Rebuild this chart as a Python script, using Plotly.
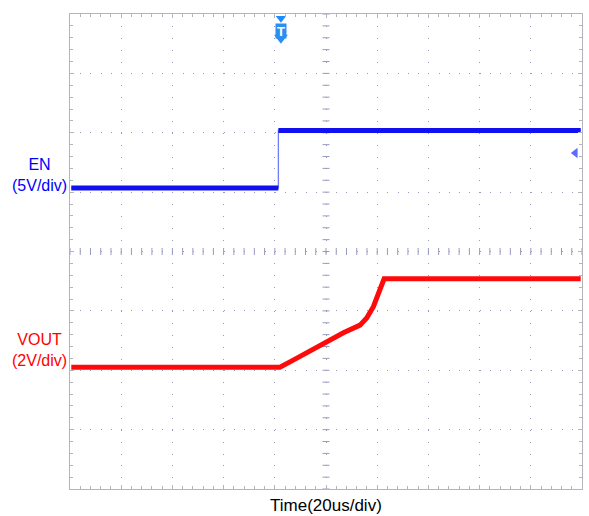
"""Scope capture: EN step and VOUT soft-start ramp, redrawn with Plotly."""

import plotly.graph_objects as go

# time in microseconds (20 us/div, 10 divisions), levels in screen divisions
EN_T = [-99.5, -18.6, -18.6, 99.5]
EN_DIV = [1.07, 1.07, 2.04, 2.04]

VOUT_T = [-99.5, -18.0, -12.8, -6.25, 0.3, 6.8, 13.3, 15.9, 18.5, 21.1, 22.7, 99.5]
VOUT_DIV = [-1.95, -1.95, -1.83, -1.67, -1.52, -1.37, -1.24, -1.12, -0.93, -0.65, -0.46, -0.46]

TRIGGER_T = -17.6
EN_REF_DIV = 1.66

X_RANGE = [-100, 100]
Y_RANGE = [-4, 4]
CENTER_TICKS_X = [v * 4 for v in range(-25, 26)]
CENTER_TICKS_Y = [v * 0.2 for v in range(-20, 21)]

_GRID = "#9a9abf"
_BORDER = "#b4b4bc"
_EN_COLOR = "#1010f0"
_VOUT_COLOR = "#ff0a0a"
_FONT = "Liberation Sans, Arial, sans-serif"

fig = go.Figure()

# center cross tick marks
fig.add_trace(go.Scatter(
    x=CENTER_TICKS_X, y=[0] * len(CENTER_TICKS_X), mode="markers",
    marker=dict(symbol="line-ns", size=5, line=dict(color=_GRID, width=1)),
    hoverinfo="skip", showlegend=False,
))
fig.add_trace(go.Scatter(
    x=[0] * len(CENTER_TICKS_Y), y=CENTER_TICKS_Y, mode="markers",
    marker=dict(symbol="line-ew", size=5, line=dict(color=_GRID, width=1)),
    hoverinfo="skip", showlegend=False,
))

# EN: thin edge, thick noisy levels
fig.add_trace(go.Scatter(
    x=EN_T, y=EN_DIV, mode="lines",
    line=dict(color="#6f7cf5", width=1.3), showlegend=False,
))
fig.add_trace(go.Scatter(
    x=[EN_T[0], EN_T[1], None, EN_T[2], EN_T[3]],
    y=[EN_DIV[0], EN_DIV[1], None, EN_DIV[2], EN_DIV[3]],
    mode="lines", line=dict(color=_EN_COLOR, width=5), showlegend=False,
))

# VOUT
fig.add_trace(go.Scatter(
    x=VOUT_T, y=VOUT_DIV, mode="lines",
    line=dict(color=_VOUT_COLOR, width=5), showlegend=False,
))

# trigger marker and EN reference arrow
fig.add_trace(go.Scatter(
    x=[TRIGGER_T], y=[3.93], mode="markers",
    marker=dict(symbol="triangle-down", size=9, color="#1a8cff"),
    cliponaxis=False, hoverinfo="skip", showlegend=False,
))
fig.add_trace(go.Scatter(
    x=[TRIGGER_T], y=[3.6], mode="markers",
    marker=dict(symbol="triangle-down", size=12, color="#2a90f0"),
    cliponaxis=False, hoverinfo="skip", showlegend=False,
))
fig.add_trace(go.Scatter(
    x=[97.4], y=[EN_REF_DIV], mode="markers",
    marker=dict(symbol="triangle-left", size=9, color="#5b6bff"),
    cliponaxis=False, hoverinfo="skip", showlegend=False,
))

fig.add_annotation(
    x=TRIGGER_T, y=3.72, text="<b>T</b>", showarrow=False,
    font=dict(family=_FONT, size=13, color="white"),
    bgcolor="#2a90f0", borderpad=0, width=10, height=14,
)

fig.add_annotation(
    xref="paper", x=0, xshift=-1, xanchor="right", y=1.29,
    text="EN<br>(5V/div)", showarrow=False, align="center",
    font=dict(family=_FONT, size=16, color="#0000ff"),
)
fig.add_annotation(
    xref="paper", x=0, xshift=-1, xanchor="right", y=-1.66,
    text="VOUT<br>(2V/div)", showarrow=False, align="center",
    font=dict(family=_FONT, size=16, color="#ff0000"),
)
fig.add_annotation(
    x=0, yref="paper", y=0, yshift=-5, yanchor="top",
    text="Time(20us/div)", showarrow=False,
    font=dict(family=_FONT, size=17, color="black"),
)

_axis = dict(
    showgrid=True, gridcolor=_GRID, gridwidth=1,
    zeroline=False, showticklabels=False,
    showline=True, linecolor=_BORDER, linewidth=1, mirror="allticks",
    ticks="inside", ticklen=4, tickcolor=_BORDER,
    fixedrange=True,
)

fig.update_xaxes(
    range=X_RANGE, dtick=20, tick0=0, griddash="1px,10.88px",
    minor=dict(dtick=4, ticks="inside", ticklen=3, tickcolor=_BORDER, showgrid=False),
    **_axis,
)
fig.update_yaxes(
    range=Y_RANGE, dtick=1, tick0=0, griddash="1px,9.24px",
    minor=dict(dtick=0.2, ticks="inside", ticklen=3, tickcolor=_BORDER, showgrid=False),
    **_axis,
)

fig.update_layout(
    width=589, height=516,
    margin=dict(l=70, r=7, t=14, b=27),
    plot_bgcolor="white", paper_bgcolor="white",
    showlegend=False,
)

# the page body has a default 8px margin; drop it so the figure sits at 0,0
fig.write_html(
    "out.html",
    config={"displayModeBar": False},
    post_script="document.body.style.margin='0px';",
)
